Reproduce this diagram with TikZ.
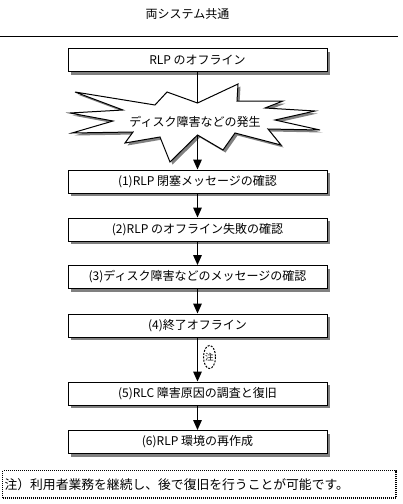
\documentclass[tikz,border=0pt]{standalone}
\usepackage{fontspec}
\setmainfont{Noto Sans CJK JP}
\usetikzlibrary{arrows.meta,shadows,shapes.geometric}
\begin{document}
\begin{tikzpicture}[x=0.75pt,y=-0.75pt,line width=0.75pt,
  stepbox/.style={draw,fill=white,minimum width=194.25pt,minimum height=17.25pt,inner sep=0pt,
    font=\fontsize{9}{10}\selectfont,
    drop shadow={shadow xshift=2.25pt,shadow yshift=-2.25pt,fill=black!50,opacity=1}},
  arr/.style={-{Triangle[width=6.5pt,length=7.5pt]}},
  txt/.style={font=\fontsize{9}{10}\selectfont,inner sep=0pt}]
\useasboundingbox (0,0) rectangle (403,504);
% title and rule
\node[txt] (title) at (187.5,14) {両システム共通};
\coordinate (rl) at (0,36);
\coordinate (rr) at (398,36);
\draw (rl) -- (rr);
% boxes
\node[stepbox] (b0) at (197.5,60) {RLP のオフライン};
\node[stepbox] (b1) at (197.5,181.5) {(1)RLP 閉塞メッセージの確認};
\node[stepbox] (b2) at (197.5,229.5) {(2)RLP のオフライン失敗の確認};
\node[stepbox] (b3) at (197.5,277) {(3)ディスク障害などのメッセージの確認};
\node[stepbox] (b4) at (197.5,325.5) {(4)終了オフライン};
\node[stepbox] (b5) at (197.5,393.5) {(5)RLC 障害原因の調査と復旧};
\node[stepbox] (b6) at (197.5,442) {(6)RLP 環境の再作成};
% starburst
\begin{scope}[shift={(2.5,2.5)}]
\fill[black!50] (197.5,103) -- (167,92) -- (155,105) -- (75,92) -- (123,110) -- (70,113) -- (113,121) -- (72,133) -- (133,132) -- (125,143) -- (160,137) -- (170,162) -- (197.5,135) -- (223,150) -- (235,133) -- (281,145) -- (268,129) -- (320,130) -- (275,120) -- (315,111) -- (265,108) -- (283,101) -- (237,101) -- (238,84) -- cycle;
\end{scope}
\filldraw[fill=white] (197.5,103) -- (167,92) -- (155,105) -- (75,92) -- (123,110) -- (70,113) -- (113,121) -- (72,133) -- (133,132) -- (125,143) -- (160,137) -- (170,162) -- (197.5,135) -- (223,150) -- (235,133) -- (281,145) -- (268,129) -- (320,130) -- (275,120) -- (315,111) -- (265,108) -- (283,101) -- (237,101) -- (238,84) -- cycle;
\node[txt] (burst) at (195,122) {ディスク障害などの発生};
\coordinate (btop) at (197.5,103);
\coordinate (bbot) at (197.5,135);
% connectors
\draw (b0) -- (btop);
\draw[arr] (bbot) -- (b1);
\draw[arr] (b1) -- (b2);
\draw[arr] (b2) -- (b3);
\draw[arr] (b3) -- (b4);
\draw[arr] (b4) -- (b5);
\draw[arr] (b5) -- (b6);
% note mark
\node[inner sep=0pt,font=\fontsize{6.5}{7}\selectfont] (chu) at (209.5,357) {注};
\draw[dash pattern=on 1.5pt off 1pt] (chu.center) ellipse [x radius=6, y radius=11.5];
% note box
\node[draw,line width=0.9pt,dash pattern=on 0.75pt off 0.75pt,anchor=north west,text width=292pt,inner xsep=1.5pt,minimum height=20.5pt,align=left,font=\fontsize{9.6}{11}\selectfont] (note) at (2,470) {注）利用者業務を継続し、後で復旧を行うことが可能です。};
\end{tikzpicture}
\end{document}
